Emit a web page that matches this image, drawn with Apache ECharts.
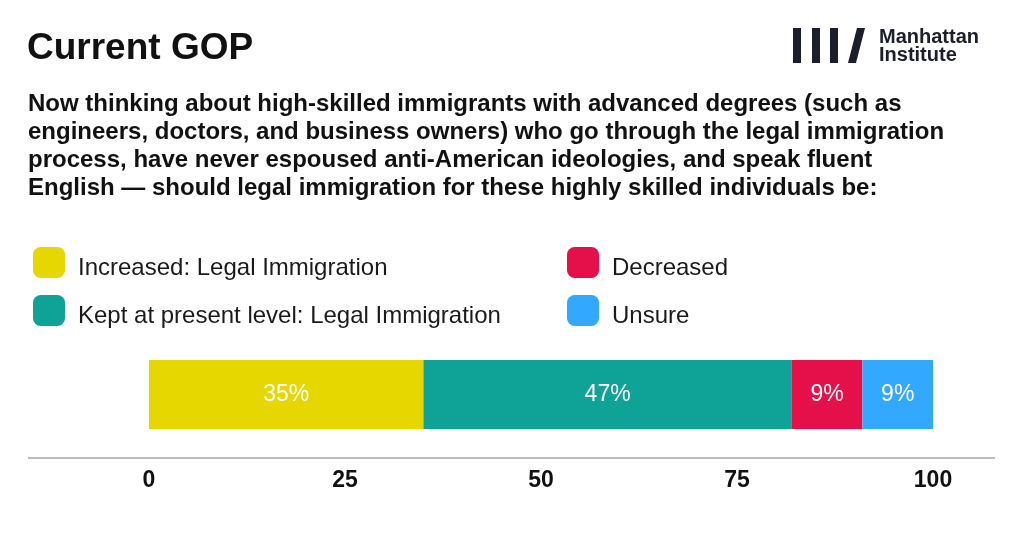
<!DOCTYPE html>
<html lang="en">
<head>
    <meta charset="UTF-8">
    <title>Current GOP</title>
    <script src="https://cdn.jsdelivr.net/npm/echarts/dist/echarts.min.js"></script>
    <style>
        html, body { margin: 0; padding: 0; background: #fff; }
        #chart { width: 1024px; height: 540px; }
    </style>
</head>
<body>
    <div id="chart"></div>
    <script>
        // 数据
        const categories = ['Current GOP'];
        const seriesNames = ['Increased: Legal Immigration', 'Kept at present level: Legal Immigration', 'Decreased', 'Unsure'];
        const increased = [35];
        const kept = [47];
        const decreased = [9];
        const unsure = [9];
        const tickValues = [0, 25, 50, 75, 100];

        const colors = ['#E6D700', '#0FA398', '#E5104A', '#33A8FF'];
        const font = '"Liberation Sans", Arial, sans-serif';
        const ink = '#1c1f2b';

        const chart = echarts.init(document.getElementById('chart'));

        const makeSeries = (name, data, color) => ({
            name: name,
            type: 'bar',
            stack: 'total',
            barWidth: '100%',
            data: data,
            itemStyle: { color: color },
            label: {
                show: true,
                position: 'inside',
                formatter: '{c}%',
                color: '#fff',
                fontSize: 23,
                fontFamily: font
            }
        });

        // 文字略低于色块中心
        const legendText = {
            fontSize: 24, color: '#1a1a1a', fontFamily: font, padding: [0, 0, 0, 8],
            rich: { t: { fontSize: 24, color: '#1a1a1a', fontFamily: font, padding: [12, 0, 0, 0] } }
        };
        const legendBase = {
            orient: 'vertical',
            top: 247, padding: 0,
            itemWidth: 32, itemHeight: 31, itemGap: 14.5,
            icon: 'roundRect',
            selectedMode: false,
            formatter: '{t|{name}}',
            textStyle: legendText
        };

        const option = {
            animation: false,
            textStyle: { fontFamily: font },
            title: [
                {
                    text: 'Current GOP',
                    left: 27, top: 30, padding: 0,
                    textStyle: { fontSize: 37, fontWeight: 'bold', color: '#111', fontFamily: font }
                },
                {
                    text: 'Now thinking about high-skilled immigrants with advanced degrees (such as\n' +
                          'engineers, doctors, and business owners) who go through the legal immigration\n' +
                          'process, have never espoused anti-American ideologies, and speak fluent\n' +
                          'English \u2014 should legal immigration for these highly skilled individuals be:',
                    left: 28, top: 90, padding: 0,
                    textStyle: { fontSize: 24, fontWeight: 'bold', color: '#111', lineHeight: 28, fontFamily: font }
                }
            ],
            legend: [
                Object.assign({}, legendBase, { data: seriesNames.slice(0, 2), left: 33 }),
                Object.assign({}, legendBase, { data: seriesNames.slice(2), left: 567 })
            ],
            grid: { left: 149, right: 91, top: 360, height: 69, containLabel: false },
            xAxis: {
                type: 'value',
                min: tickValues[0],
                max: tickValues[tickValues.length - 1],
                interval: 25,
                axisLine: { show: false },
                axisTick: { show: false },
                splitLine: { show: false },
                axisLabel: { margin: 40, fontSize: 23, fontWeight: 'bold', color: '#111', fontFamily: font }
            },
            yAxis: {
                type: 'category',
                data: categories,
                show: false
            },
            series: [
                makeSeries(seriesNames[0], increased, colors[0]),
                makeSeries(seriesNames[1], kept, colors[1]),
                makeSeries(seriesNames[2], decreased, colors[2]),
                makeSeries(seriesNames[3], unsure, colors[3])
            ],
            graphic: [
                // 底部横线
                { type: 'line', shape: { x1: 28, y1: 458, x2: 995, y2: 458 }, style: { stroke: '#bdbdbd', lineWidth: 2 } },
                // logo
                { type: 'rect', shape: { x: 793, y: 28, width: 8, height: 35 }, style: { fill: ink } },
                { type: 'rect', shape: { x: 812, y: 28, width: 8, height: 35 }, style: { fill: ink } },
                { type: 'rect', shape: { x: 830, y: 28, width: 8, height: 35 }, style: { fill: ink } },
                { type: 'polygon', shape: { points: [[857, 28], [865, 28], [856, 63], [848, 63]] }, style: { fill: ink } },
                {
                    type: 'text', left: 879, top: 27,
                    style: { text: 'Manhattan\nInstitute', fill: ink, font: 'bold 20px ' + font, lineHeight: 18 }
                }
            ]
        };

        chart.setOption(option);
    </script>
</body>
</html>
